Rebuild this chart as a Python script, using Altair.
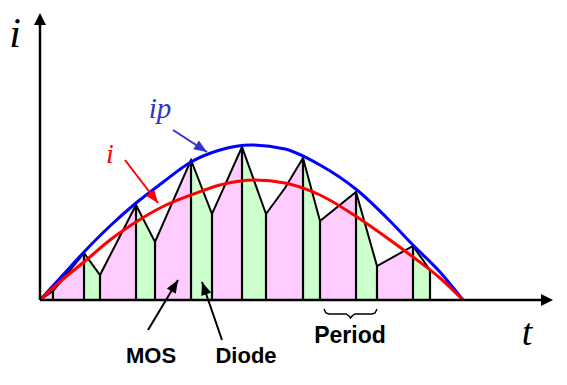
import math
import altair as alt
import pandas as pd

# ---- data (t = time units, i = current units) ----
ip_t = [0, 22, 44, 70, 96, 122, 151, 180, 211, 245, 280, 317, 350, 373, 400, 423]
ip_i = [0, 24, 48, 74, 97, 117, 138, 150, 155, 151, 135, 110, 79, 55, 28, 0]

i_t = [0, 22, 44, 70, 96, 122, 151, 180, 215, 245, 280, 317, 350, 373, 400, 423]
i_i = [0, 20, 38, 60, 78, 93, 105, 115, 120, 117, 105, 83, 60, 43, 22, 0]

saw_t = [0, 13, 44, 60, 96, 115, 151, 172, 202, 226, 245, 263, 280, 316, 337, 373, 390]
saw_i = [0, 9, 47, 25, 95, 58, 140, 86, 153, 86, 112, 142, 79, 108, 34, 54, 30]
seg_bounds = [0, 2, 3, 4, 5, 6, 7, 8, 9, 11, 12, 13, 14, 15, 16]
seg_kinds = ["MOS", "Diode"] * 7
vertical_idx = [1, 2, 3, 4, 5, 6, 7, 8, 9, 11, 12, 13, 14, 15, 16]

brace_t = [284, 286, 289, 306, 309, 310.5, 312, 315, 332, 335, 337]
brace_i = [-9, -13, -14, -14, -16, -18, -16, -14, -14, -13, -9]

# axes: (t0, i0, t1, i1) -> arrow tip
axes_lines = [(0, 0, 501, 0), (0, 0, 0, 275)]
axes_tips = [(513, 0, 90), (0, 287, 0)]

# annotation arrows: (t0, i0, t1, i1, color)
ann_arrows = [
    (133, 170, 167, 148, "#3333CC"),
    (85, 140, 118, 97, "#FF0000"),
    (108, -30, 138, 20, "#000000"),
    (182, -40, 162, 18, "#000000"),
]

labels_text = ["i", "t", "ip", "i", "MOS", "Diode", "Period"]
labels_t = [-25, 487, 120, 70, 111, 206, 310]
labels_i = [253, -45, 182, 137, -63, -63, -43]

# ---- tables ----
xs = alt.Scale(domain=[-32, 517], nice=False, zero=False)
ys = alt.Scale(domain=[-73, 292], nice=False, zero=False)

area_rows = []
for k in range(len(seg_bounds) - 1):
    for j in range(seg_bounds[k], seg_bounds[k + 1] + 1):
        area_rows.append({"seg": k, "t": saw_t[j], "i": saw_i[j], "kind": seg_kinds[k]})
area_df = pd.DataFrame(area_rows)

saw_df = pd.DataFrame({"t": saw_t, "i": saw_i, "idx": list(range(len(saw_t)))})
vert_df = pd.DataFrame({"t": [saw_t[j] for j in vertical_idx], "i": [saw_i[j] for j in vertical_idx]})
ip_df = pd.DataFrame({"t": ip_t, "i": ip_i})
i_df = pd.DataFrame({"t": i_t, "i": i_i})
brace_df = pd.DataFrame({"t": brace_t, "i": brace_i, "idx": list(range(len(brace_t)))})

axl_df = pd.DataFrame(axes_lines, columns=["t", "i", "t1", "i1"])
axt_df = pd.DataFrame(axes_tips, columns=["t", "i", "angle"])

arr_df = pd.DataFrame(ann_arrows, columns=["t", "i", "t1", "i1", "col"])
head_df = pd.DataFrame({
    "t": arr_df["t1"], "i": arr_df["i1"], "col": arr_df["col"],
    "angle": [math.degrees(math.atan2(r.t1 - r.t, r.i1 - r.i)) % 360 for r in arr_df.itertuples()],
})

X = alt.X("t:Q", scale=xs, axis=None)
Y = alt.Y("i:Q", scale=ys, axis=None)

areas = alt.Chart(area_df).mark_area(opacity=1).encode(
    x=X, y=Y, y2=alt.datum(0), detail="seg:N",
    color=alt.Color("kind:N", scale=alt.Scale(domain=["MOS", "Diode"], range=["#FFCCFF", "#CCFFCC"]), legend=None),
)
verts = alt.Chart(vert_df).mark_rule(color="black", strokeWidth=2.2).encode(x=X, y=Y, y2=alt.datum(0))
saw = alt.Chart(saw_df).mark_line(color="black", strokeWidth=2, strokeJoin="miter").encode(
    x=X, y=Y, order="idx:Q")
ip_line = alt.Chart(ip_df).mark_line(color="#0000FF", strokeWidth=3, interpolate="monotone").encode(x=X, y=Y)
i_line = alt.Chart(i_df).mark_line(color="#FF0000", strokeWidth=3, interpolate="monotone").encode(x=X, y=Y)

axl = alt.Chart(axl_df).mark_rule(color="black", strokeWidth=2.5).encode(
    x=X, y=Y, x2="t1:Q", y2="i1:Q")
axt = alt.Chart(axt_df).mark_point(shape="M0,0L-1,2L1,2Z", filled=True, opacity=1, color="black", size=144).encode(
    x=X, y=Y, angle=alt.Angle("angle:Q", scale=None))

arrl = alt.Chart(arr_df).mark_rule(strokeWidth=2).encode(
    x=X, y=Y, x2="t1:Q", y2="i1:Q", color=alt.Color("col:N", scale=None))
arrh = alt.Chart(head_df).mark_point(shape="M0,0L-0.8,2L0.8,2Z", filled=True, opacity=1, size=169).encode(
    x=X, y=Y, angle=alt.Angle("angle:Q", scale=None), color=alt.Color("col:N", scale=None))

brace = alt.Chart(brace_df).mark_line(color="black", strokeWidth=1.5).encode(x=X, y=Y, order="idx:Q")

serif = "Liberation Serif, Times New Roman, serif"
sans = "Liberation Sans, Arial, sans-serif"

def label(k, font, size, color, style="normal", weight="normal"):
    d = pd.DataFrame({"t": [labels_t[k]], "i": [labels_i[k]], "txt": [labels_text[k]]})
    return alt.Chart(d).mark_text(font=font, fontSize=size, color=color, fontStyle=style,
                                  fontWeight=weight, align="center", baseline="alphabetic").encode(
        x=X, y=Y, text="txt:N")

texts = [
    label(0, serif, 42, "black", style="italic"),
    label(1, serif, 38, "black", style="italic"),
    label(2, serif, 29, "#3333CC", style="italic"),
    label(3, serif, 28, "#FF0000", style="italic"),
    label(4, sans, 22, "black", weight="bold"),
    label(5, sans, 22, "black", weight="bold"),
    label(6, sans, 23, "black", weight="bold"),
]

chart = alt.layer(areas, verts, saw, ip_line, i_line, axl, axt, arrl, arrh, brace, *texts).properties(
    width=549, height=365, padding=0, background="white"
).configure_view(stroke=None)

chart.save("out.html", embed_options={"renderer": "svg", "actions": False})
